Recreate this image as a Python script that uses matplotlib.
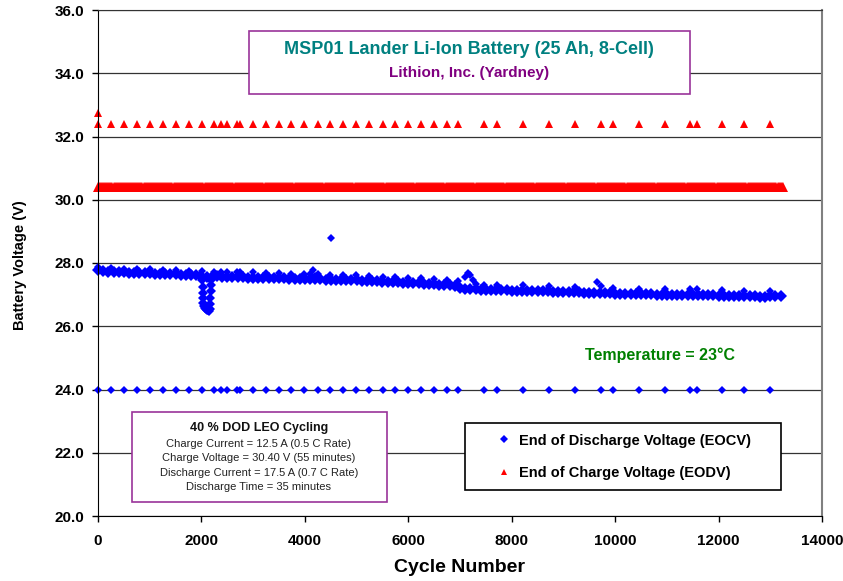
import numpy as np
import matplotlib.pyplot as plt
from matplotlib.patches import Rectangle

plt.rcParams['font.family'] = ['Liberation Sans', 'DejaVu Sans']

# checkpoint cycles (sparse markers at 32.4 V and 24.0 V, spikes in EOCV)
check_cycles = [0, 250, 500, 750, 1000, 1265, 1515, 1760, 2010, 2250, 2375, 2495,
                2685, 2750, 2990, 3245, 3500, 3740, 3990, 4250, 4495, 4745, 4995,
                5245, 5505, 5750, 6000, 6250, 6495, 6745, 6960, 7465, 7715, 8220,
                8720, 9230, 9725, 9965, 10470, 10965, 11450, 11575, 12075, 12490, 12995]
check_eodv = 32.4
check_eocv = 24.0
check_spike = [27.86, 27.84, 27.82, 27.80, 27.80, 27.78, 27.77, 27.76, 27.74, 27.72,
               27.72, 27.72, 27.71, 27.71, 27.70, 27.69, 27.67, 27.66, 27.65, 27.64,
               27.62, 27.62, 27.61, 27.60, 27.57, 27.56, 27.54, 27.52, 27.50, 27.47,
               27.44, 27.32, 27.31, 27.29, 27.27, 27.24, 27.28, 27.21, 27.19, 27.18,
               27.17, 27.17, 27.14, 27.13, 27.12]

# regular cycling: end of charge voltage held at the 30.40 V limit
eodv_cycles = np.arange(0, 13260, 20)
eodv = [30.4] * len(eodv_cycles)

# end of discharge voltage, sampled every 100 cycles
cycles = np.arange(0, 13300, 100)
eocv = [27.78, 27.74, 27.72, 27.71, 27.70, 27.70, 27.69, 27.68, 27.68, 27.67,
        27.67, 27.66, 27.66, 27.65, 27.65, 27.64, 27.63, 27.63, 27.62, 27.61,
        27.58, 27.55, 27.57, 27.58, 27.57, 27.56, 27.56, 27.55, 27.55, 27.54,
        27.54, 27.53, 27.53, 27.52, 27.52, 27.51, 27.51, 27.50, 27.50, 27.49,
        27.49, 27.48, 27.50, 27.48, 27.47, 27.47, 27.46, 27.46, 27.46, 27.45,
        27.45, 27.44, 27.43, 27.42, 27.42, 27.41, 27.40, 27.40, 27.39, 27.38,
        27.38, 27.37, 27.36, 27.35, 27.34, 27.33, 27.32, 27.30, 27.29, 27.27,
        27.22, 27.18, 27.17, 27.17, 27.16, 27.16, 27.15, 27.15, 27.14, 27.14,
        27.13, 27.13, 27.12, 27.12, 27.11, 27.11, 27.10, 27.10, 27.09, 27.09,
        27.08, 27.08, 27.07, 27.07, 27.06, 27.06, 27.05, 27.05, 27.04, 27.04,
        27.03, 27.03, 27.02, 27.02, 27.02, 27.01, 27.01, 27.01, 27.00, 27.00,
        27.00, 27.00, 27.00, 27.00, 26.99, 26.99, 26.99, 26.98, 26.98, 26.98,
        26.97, 26.97, 26.97, 26.96, 26.96, 26.95, 26.95, 26.95, 26.94, 26.94,
        26.95, 26.96, 26.97]

# voltage dip around cycle 2000-2200
dip_cycles = [2020, 2030, 2030, 2040, 2040, 2050, 2060, 2080, 2100, 2120, 2140,
              2160, 2170, 2170, 2180, 2180, 2190, 2200]
dip_eocv = [27.45, 27.25, 27.05, 26.90, 26.75, 26.65, 26.58, 26.55, 26.52, 26.50,
            26.47, 26.55, 26.70, 26.90, 27.10, 27.30, 27.45, 27.55]

# other bumps and the outlier
bump_cycles = [4100, 4150, 4200, 4500, 7100, 7150, 7200, 7250, 7300, 9650]
bump_eocv = [27.65, 27.78, 27.60, 28.78, 27.55, 27.68, 27.62, 27.45, 27.35, 27.40]

first_eodv = 32.73

W, H = 843, 581
fig = plt.figure(figsize=(W / 100, H / 100), dpi=100)
ax = fig.add_axes([98 / W, 1 - 516 / H, 724 / W, 506 / H])

blue = '#0000FF'
red = '#FF0000'
kw = dict(ls='none', mew=0, clip_on=False)

ax.plot(eodv_cycles, eodv, marker='^', ms=6.5, color=red, **kw)
ax.plot([0], [first_eodv], marker='^', ms=6, color=red, **kw)
ax.plot(cycles, eocv, marker='D', ms=6.5, color=blue, **kw)
ax.plot(check_cycles, check_spike, marker='D', ms=4.5, color=blue, **kw)
ax.plot(dip_cycles, dip_eocv, marker='D', ms=5, color=blue, **kw)
ax.plot(bump_cycles, bump_eocv, marker='D', ms=4.5, color=blue, **kw)
l1, = ax.plot(check_cycles, [check_eocv] * len(check_cycles), marker='D',
              ms=4.5, color=blue, label='End of Discharge Voltage (EOCV)', **kw)
l2, = ax.plot(check_cycles, [check_eodv] * len(check_cycles), marker='^',
              ms=6, color=red, label='End of Charge Voltage (EODV)', **kw)

ax.set_xlim(0, 14000)
ax.set_ylim(20, 36)
ax.set_xticks(np.arange(0, 14001, 2000))
ax.set_yticks(np.arange(20, 36.1, 2))
ax.set_yticklabels(['%.1f' % v for v in np.arange(20, 36.1, 2)])
ax.yaxis.grid(True, color='#333333', lw=0.9)
ax.set_axisbelow(True)
ax.tick_params(direction='out', length=4, width=1, labelsize=11, pad=6)
ax.tick_params(axis='x', pad=9)
for lab in ax.get_xticklabels() + ax.get_yticklabels():
    lab.set_fontweight('bold')
ax.spines['right'].set_color('#808080')
ax.spines['right'].set_linewidth(1.5)
ax.spines['top'].set_color('#333333')

fig.text(20 / W, 1 - 265 / H, 'Battery Voltage (V)', rotation=90, ha='center',
         va='center', fontsize=10.5, fontweight='bold')
fig.text(460 / W, 1 - 568 / H, 'Cycle Number', ha='center', va='center',
         fontsize=14, fontweight='bold')

# title box
fig.add_artist(Rectangle((249 / W, 1 - 94 / H), 441 / W, 63 / H, transform=fig.transFigure,
                         facecolor='white', edgecolor='#993399', lw=1.2))
fig.text(469 / W, 1 - 50 / H, 'MSP01 Lander Li-Ion Battery (25 Ah, 8-Cell)', ha='center',
         va='center', fontsize=13, fontweight='bold', color='#008080')
fig.text(469 / W, 1 - 73 / H, 'Lithion, Inc. (Yardney)', ha='center', va='center',
         fontsize=11, fontweight='bold', color='#800080')

fig.text(660 / W, 1 - 355 / H, 'Temperature = 23°C', ha='center', va='center',
         fontsize=11.5, fontweight='bold', color='#008000')

# test conditions box
fig.add_artist(Rectangle((132 / W, 1 - 502 / H), 255 / W, 90 / H, transform=fig.transFigure,
                         facecolor='white', edgecolor='#993399', lw=1.2))
fig.text(259 / W, 1 - 428.5 / H, '40 % DOD LEO Cycling', ha='center', va='center',
         fontsize=9, fontweight='bold', color='#111111')
info = ['Charge Current = 12.5 A (0.5 C Rate)',
        'Charge Voltage = 30.40 V (55 minutes)',
        'Discharge Current = 17.5 A (0.7 C Rate)',
        'Discharge Time = 35 minutes']
for i, s in enumerate(info):
    fig.text(259 / W, 1 - (443.7 + 14.5 * i) / H, s, ha='center', va='center',
             fontsize=8, color='#222222')

# legend box
fig.add_artist(Rectangle((465 / W, 1 - 490 / H), 316 / W, 67 / H, transform=fig.transFigure,
                         facecolor='white', edgecolor='black', lw=1.2))
leg = fig.legend(handles=[l1, l2], loc='center left',
                 bbox_to_anchor=(498.5 / W, 1 - 457 / H), bbox_transform=fig.transFigure,
                 frameon=False, borderpad=0, borderaxespad=0, handlelength=0.7,
                 handletextpad=0.7, labelspacing=1.3, markerscale=0.8,
                 prop={'weight': 'bold', 'size': 10.5})
leg.set_zorder(5)

plt.savefig('out.png', dpi=100)
